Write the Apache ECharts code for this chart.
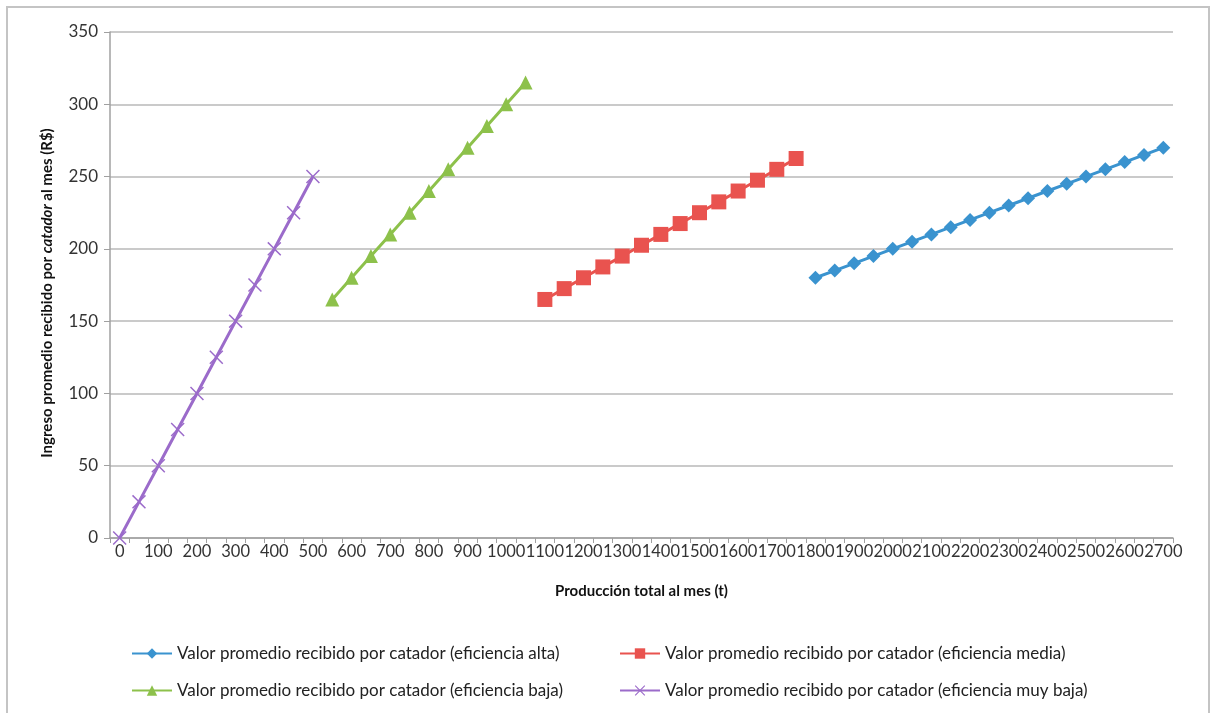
<!DOCTYPE html>
<html><head><meta charset="utf-8">
<script src="https://cdn.jsdelivr.net/npm/echarts@6/dist/echarts.min.js"></script>
<style>html,body{margin:0;padding:0;background:#fff}#c{width:1211px;height:713px}</style>
</head><body><div id="c"></div>
<script>
const categories = [0,50,100,150,200,250,300,350,400,450,500,550,600,650,700,750,800,850,900,950,1000,1050,1100,1150,1200,1250,1300,1350,1400,1450,1500,1550,1600,1650,1700,1750,1800,1850,1900,1950,2000,2050,2100,2150,2200,2250,2300,2350,2400,2450,2500,2550,2600,2650,2700];
const yTicks = [0,50,100,150,200,250,300,350];

const names = [
  'Valor promedio recibido por catador (eficiencia alta)',
  'Valor promedio recibido por catador (eficiencia media)',
  'Valor promedio recibido por catador (eficiencia baja)',
  'Valor promedio recibido por catador (eficiencia muy baja)'
];
const altaX = [1800,1850,1900,1950,2000,2050,2100,2150,2200,2250,2300,2350,2400,2450,2500,2550,2600,2650,2700];
const altaY = [180,185,190,195,200,205,210,215,220,225,230,235,240,245,250,255,260,265,270];
const mediaX = [1100,1150,1200,1250,1300,1350,1400,1450,1500,1550,1600,1650,1700,1750];
const mediaY = [165,172.5,180,187.5,195,202.5,210,217.5,225,232.5,240,247.5,255,262.5];
const bajaX = [550,600,650,700,750,800,850,900,950,1000,1050];
const bajaY = [165,180,195,210,225,240,255,270,285,300,315];
const muyBajaX = [0,50,100,150,200,250,300,350,400,450,500];
const muyBajaY = [0,25,50,75,100,125,150,175,200,225,250];

const colors = ['#3a93cf','#e9534f','#8dc14b','#9b6bca'];
const xPath = 'path://M0,1.5 L1.5,0 L10,8.5 L18.5,0 L20,1.5 L11.5,10 L20,18.5 L18.5,20 L10,11.5 L1.5,20 L0,18.5 L8.5,10 Z';
const pair = (xs, ys) => xs.map((x, i) => [String(x), ys[i]]);

const FONT = 'Lato';
const chart = echarts.init(document.getElementById('c'), null, {renderer: 'canvas'});
const series = [
  {name: names[0], data: pair(altaX, altaY), symbol: 'diamond', symbolSize: 14},
  {name: names[1], data: pair(mediaX, mediaY), symbol: 'rect', symbolSize: 15},
  {name: names[2], data: pair(bajaX, bajaY), symbol: 'triangle', symbolSize: 14},
  {name: names[3], data: pair(muyBajaX, muyBajaY), symbol: xPath, symbolSize: 14}
].map((s, i) => Object.assign({
  type: 'line', color: colors[i], showAllSymbol: true, animation: false,
  lineStyle: {width: 3, color: colors[i]}, itemStyle: {color: colors[i]},
  emphasis: {disabled: true}
}, s));

const legendText = {fontFamily: FONT, fontSize: 17, color: '#222'};
const titleRich = {
  b: {fontFamily: FONT, fontSize: 15, fontWeight: 'bold', fill: '#111'},
  i: {fontFamily: FONT, fontSize: 15, fontWeight: 'bold', fontStyle: 'italic', fill: '#111'}
};
chart.setOption({
  animation: false,
  textStyle: {fontFamily: FONT},
  graphic: [
    {type: 'rect', shape: {x: 7, y: 7, width: 1202, height: 720},
     style: {fill: 'none', stroke: '#c4c4c4', lineWidth: 2}, silent: true},
    {type: 'text', x: 47, y: 293, rotation: Math.PI / 2, silent: true,
     style: {text: '{b|Ingreso promedio recibido por }{i|catador}{b| al mes (R$)}',
       rich: titleRich, align: 'center', verticalAlign: 'middle'}}
  ],
  grid: {left: 110, right: 38, top: 32, bottom: 175, containLabel: false},
  legend: [
    {data: [names[0], names[2]], orient: 'vertical', left: 126, top: 640, itemGap: 20,
     itemWidth: 40, itemHeight: 13, textStyle: legendText, selectedMode: false},
    {data: [names[1], names[3]], orient: 'vertical', left: 614, top: 640, itemGap: 20,
     itemWidth: 40, itemHeight: 13, textStyle: legendText, selectedMode: false}
  ],
  xAxis: {
    type: 'category', data: categories.map(String), boundaryGap: true,
    name: 'Producción total al mes (t)', nameLocation: 'middle', nameGap: 46,
    nameTextStyle: {fontFamily: FONT, fontSize: 15, fontWeight: 'bold', color: '#111'},
    axisLine: {lineStyle: {color: '#a0a0a0', width: 1.5}},
    axisTick: {show: true, interval: 0, length: 5, lineStyle: {color: '#a0a0a0'}},
    axisLabel: {interval: 1, fontFamily: FONT, fontSize: 16.5, color: '#333', margin: 5,
      hideOverlap: false, showMaxLabel: true, showMinLabel: true},
    splitLine: {show: false}
  },
  yAxis: {
    type: 'value', min: 0, max: 350, interval: 50,
    axisLine: {show: true, lineStyle: {color: '#a0a0a0', width: 1.5}},
    axisTick: {show: true, length: 6, lineStyle: {color: '#a0a0a0'}},
    axisLabel: {fontFamily: FONT, fontSize: 17, color: '#333', margin: 12},
    splitLine: {lineStyle: {color: '#b8b8b8', width: 1.5}}
  },
  series: series
});
</script></body></html>
